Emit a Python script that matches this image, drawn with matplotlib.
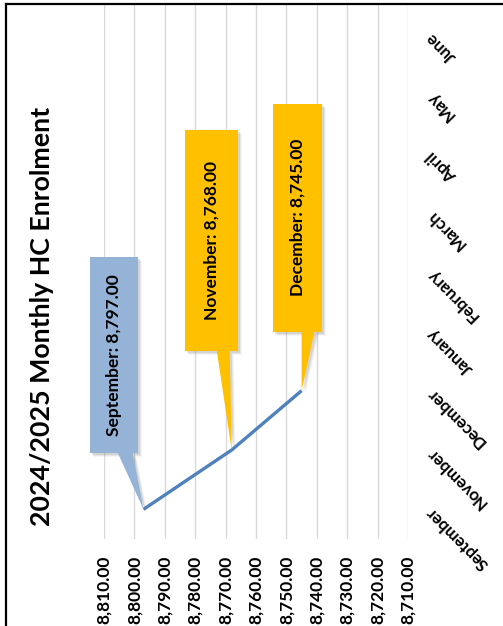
import numpy as np
import matplotlib
matplotlib.use("Agg")
import matplotlib.pyplot as plt
import matplotlib.transforms as mtransforms
from matplotlib.patches import Rectangle, Polygon
from matplotlib.lines import Line2D

plt.rcParams['font.family'] = ['Lato', 'DejaVu Sans']

# data
months = ['September', 'November', 'December', 'January', 'February',
          'March', 'April', 'May', 'June']
values = [8797, 8768, 8745]
value_ticks = [8810, 8800, 8790, 8780, 8770, 8760, 8750, 8740, 8730, 8720, 8710]
callout_text = [f'{m}: {v:,.2f}' for m, v in zip(months, values)]
callout_colors = ['#95B3D7', '#FFC000', '#FFC000']

DPI = 100
W, H = 503, 626
fig = plt.figure(figsize=(W / DPI, H / DPI), dpi=DPI)

# plot area in pixels (image coords, y down)
left, right, top, bottom = 104, 408, 5, 539
ax = fig.add_axes([left / W, 1 - bottom / H, (right - left) / W, (bottom - top) / H])
ax.set_xlim(max(value_ticks), min(value_ticks))
ax.set_ylim(-0.5, len(months) - 0.5)
for s in ax.spines.values():
    s.set_visible(False)
ax.set_xticks(value_ticks)
ax.set_xticklabels([f'{v:,.2f}' for v in value_ticks], rotation=90,
                   fontsize=12.5, fontweight='bold', va='top')
ax.tick_params(axis='x', length=0, pad=12)
ax.set_yticks([])
ax.grid(axis='x', color='#D9D9D9', linewidth=1)
ax.set_axisbelow(True)

# month labels on the right
for i, m in enumerate(months):
    ax.text(1 + 21 / (right - left), i, m,
            transform=ax.get_yaxis_transform(),
            rotation=135, rotation_mode='anchor', ha='right', va='center',
            fontsize=12, fontweight='bold')

ax.plot(values, np.arange(len(values)), color='#4F81BD', linewidth=2.4,
        solid_capstyle='butt', zorder=3)

# callouts (offsets in pixels from the data point, y up)
boxes = [(-54, 56, 48, 196), (-47, 99, 53, 221), (-29, 59, 49, 228)]
tails = [(-26, -11), (-15, -2), (0, 13)]
for i, (v, txt, col) in enumerate(zip(values, callout_text, callout_colors)):
    tr = fig.dpi_scale_trans + mtransforms.ScaledTranslation(v, i, ax.transData)
    bx, by, bw, bh = [p / DPI for p in boxes[i]]
    t0, t1 = [p / DPI for p in tails[i]]
    for k, a in [(4, 0.08), (3, 0.12), (2, 0.18)]:
        o = k / DPI
        ax.add_patch(Rectangle((bx + o, by - o), bw, bh, transform=tr,
                               facecolor='#808080', alpha=a, edgecolor='none',
                               zorder=4, clip_on=False))
        ax.add_patch(Polygon([(t0 + o, by - o), (t1 + o, by - o), (o, -o)],
                             transform=tr, facecolor='#808080', alpha=a,
                             edgecolor='none', zorder=4, clip_on=False))
    ax.add_patch(Rectangle((bx, by), bw, bh, transform=tr, facecolor=col,
                           edgecolor='none', zorder=5, clip_on=False))
    ax.add_patch(Polygon([(t0, by + 0.01), (t1, by + 0.01), (0, 0)],
                         transform=tr, facecolor=col, edgecolor='none',
                         zorder=5, clip_on=False))
    ax.text(bx + bw / 2, by + bh / 2, txt, transform=tr, rotation=90,
            ha='center', va='center', fontsize=12.5, fontweight='bold',
            zorder=6, clip_on=False)

fig.text(42 / W, 1 - 316 / H, '2024/2025 Monthly HC Enrolment', rotation=90,
         ha='center', va='center', fontsize=19.3, fontweight='bold')

# chart border (left and top edges visible)
fig.add_artist(Line2D([5.5 / W, 5.5 / W], [0, 1 - 4 / H], color='black',
                      linewidth=1.6, transform=fig.transFigure))
fig.add_artist(Line2D([5.5 / W, 1], [1 - 4 / H, 1 - 4 / H], color='black',
                      linewidth=1.6, transform=fig.transFigure))

fig.savefig('out.png', dpi=DPI)
